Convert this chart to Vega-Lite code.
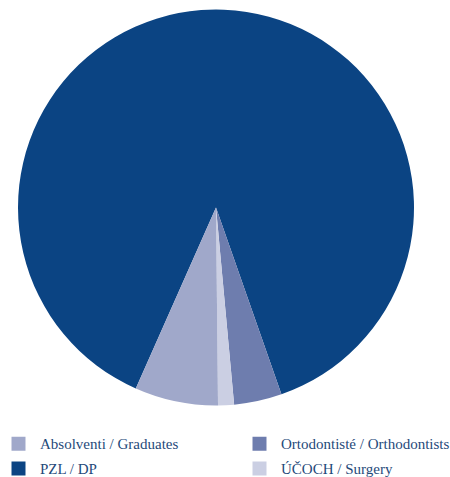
{
  "$schema": "https://vega.github.io/schema/vega-lite/v6.json",
  "width": 432,
  "height": 415,
  "padding": {"left": 0, "top": 0, "right": 18, "bottom": 62},
  "autosize": {"type": "none"},
  "background": "#ffffff",
  "data": {
    "values": [
      {"category": "PZL / DP", "value": 88.0, "ord": 1},
      {"category": "Ortodontisté / Orthodontists", "value": 3.9, "ord": 2},
      {"category": "ÚČOCH / Surgery", "value": 1.3, "ord": 3},
      {"category": "Absolventi / Graduates", "value": 6.8, "ord": 4}
    ]
  },
  "mark": {"type": "arc", "outerRadius": 198, "stroke": null},
  "encoding": {
    "theta": {"field": "value", "type": "quantitative", "stack": true, "scale": {"range": [3.5587, 9.8419]}},
    "order": {"field": "ord", "type": "quantitative"},
    "color": {
      "field": "category",
      "type": "nominal",
      "scale": {
        "domain": ["Absolventi / Graduates", "Ortodontisté / Orthodontists", "PZL / DP", "ÚČOCH / Surgery"],
        "range": ["#a0a8ca", "#6e7dae", "#0b4483", "#cbcfe3"]
      },
      "legend": {
        "title": null,
        "orient": "none",
        "direction": "horizontal",
        "legendX": 11,
        "legendY": 436,
        "columns": 2,
        "columnPadding": 73,
        "rowPadding": 9,
        "symbolType": "square",
        "symbolSize": 196,
        "symbolStrokeWidth": 0,
        "symbolOpacity": 1,
        "labelFontSize": 15,
        "labelColor": "#1f4a7a",
        "labelOffset": 14,
        "labelLimit": 300
      }
    }
  },
  "config": {
    "font": "Liberation Serif",
    "legend": {"labelFont": "Liberation Serif"},
    "view": {"stroke": null}
  }
}
